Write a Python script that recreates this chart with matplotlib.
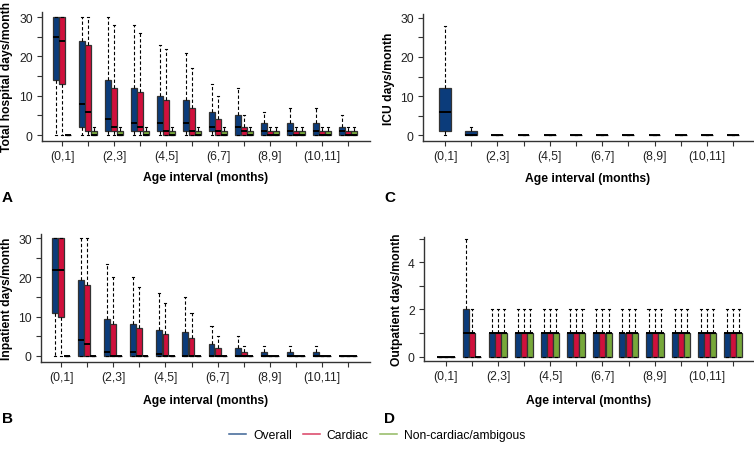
import numpy as np
import matplotlib
matplotlib.use('Agg')
import matplotlib.pyplot as plt
from matplotlib.lines import Line2D

plt.rcParams['font.family'] = ['Liberation Sans', 'DejaVu Sans']

# age intervals (12 months)
intervals = ['(0,1]', '(1,2]', '(2,3]', '(3,4]', '(4,5]', '(5,6]',
             '(6,7]', '(7,8]', '(8,9]', '(9,10]', '(10,11]', '(11,12]']
groups = ['Overall', 'Cardiac', 'Non-cardiac/ambigous']
colors = ['#0b3c7b', '#d0103c', '#77a83a']

# A: total hospital days/month  (lo, q1, med, q3, hi)
tot_overall = dict(
    lo=[0, 0, 0, 0, 0, 0, 0, 0, 0, 0, 0, 0],
    q1=[14, 2, 1, 1, 1, 1, 1, 0, 0, 0, 0, 0],
    med=[25, 8, 4, 3, 3, 3, 2, 2, 1, 1, 1, 1],
    q3=[30, 24, 14, 12, 10, 9, 6, 5, 3, 3, 3, 2],
    hi=[30, 30, 30, 28, 23, 21, 13, 12, 6, 7, 7, 5])
tot_cardiac = dict(
    lo=[0, 0, 0, 0, 0, 0, 0, 0, 0, 0, 0, 0],
    q1=[13, 1, 1, 1, 0, 0, 0, 0, 0, 0, 0, 0],
    med=[24, 6, 2, 2, 1, 1, 1, 1, 0, 0, 0, 0],
    q3=[30, 23, 12, 11, 9, 7, 4, 2, 1, 1, 1, 1],
    hi=[30, 30, 28, 26, 22, 17, 10, 5, 2, 2, 2, 2])
tot_noncard = dict(
    lo=[0, 0, 0, 0, 0, 0, 0, 0, 0, 0, 0, 0],
    q1=[0, 0, 0, 0, 0, 0, 0, 0, 0, 0, 0, 0],
    med=[0, 0, 0, 0, 0, 0, 0, 0, 0, 0, 0, 0],
    q3=[0, 1, 1, 1, 1, 1, 1, 1, 1, 1, 1, 1],
    hi=[0, 2, 2, 2, 2, 2, 2, 2, 2, 2, 2, 2])

# B: inpatient days/month
inp_overall = dict(
    lo=[0, 0, 0, 0, 0, 0, 0, 0, 0, 0, 0, 0],
    q1=[11, 0, 0, 0, 0, 0, 0, 0, 0, 0, 0, 0],
    med=[22, 4, 1, 1, 0.5, 0, 0, 0, 0, 0, 0, 0],
    q3=[30, 19.3, 9.5, 8, 6.5, 6, 3, 2, 1, 1, 1, 0],
    hi=[30, 30, 23.5, 20, 16, 15, 7.5, 5, 2.5, 2.5, 2.5, 0])
inp_cardiac = dict(
    lo=[0, 0, 0, 0, 0, 0, 0, 0, 0, 0, 0, 0],
    q1=[10, 0, 0, 0, 0, 0, 0, 0, 0, 0, 0, 0],
    med=[22, 3, 0, 0, 0, 0, 0, 0, 0, 0, 0, 0],
    q3=[30, 18, 8, 7, 5.5, 4.5, 2, 1, 0, 0, 0, 0],
    hi=[30, 30, 20, 17.5, 13.5, 11, 5, 2.5, 0, 0, 0, 0])
inp_noncard = dict(
    lo=[0] * 12, q1=[0] * 12, med=[0] * 12, q3=[0] * 12, hi=[0] * 12)

# C: ICU days/month (overall only)
icu_overall = dict(
    lo=[0, 0, 0, 0, 0, 0, 0, 0, 0, 0, 0, 0],
    q1=[1, 0, 0, 0, 0, 0, 0, 0, 0, 0, 0, 0],
    med=[6, 0, 0, 0, 0, 0, 0, 0, 0, 0, 0, 0],
    q3=[12, 1, 0, 0, 0, 0, 0, 0, 0, 0, 0, 0],
    hi=[28, 2, 0, 0, 0, 0, 0, 0, 0, 0, 0, 0])

# D: outpatient days/month
out_overall = dict(
    lo=[0] * 12, q1=[0] * 12,
    med=[0, 1, 1, 1, 1, 1, 1, 1, 1, 1, 1, 1],
    q3=[0, 2, 1, 1, 1, 1, 1, 1, 1, 1, 1, 1],
    hi=[0, 5, 2, 2, 2, 2, 2, 2, 2, 2, 2, 2])
out_cardiac = dict(
    lo=[0] * 12, q1=[0] * 12,
    med=[0, 1, 1, 1, 1, 1, 1, 1, 1, 1, 1, 1],
    q3=[0, 1, 1, 1, 1, 1, 1, 1, 1, 1, 1, 1],
    hi=[0, 2, 2, 2, 2, 2, 2, 2, 2, 2, 2, 2])
out_noncard = dict(
    lo=[0] * 12, q1=[0] * 12,
    med=[0, 0, 1, 1, 1, 1, 1, 1, 1, 1, 1, 1],
    q3=[0, 0, 1, 1, 1, 1, 1, 1, 1, 1, 1, 1],
    hi=[0, 0, 2, 2, 2, 2, 2, 2, 2, 2, 2, 2])

W, H = 754, 452
fig = plt.figure(figsize=(W / 100, H / 100), dpi=100)


def px_axes(left, top, right, bottom):
    return fig.add_axes([left / W, 1 - bottom / H, (right - left) / W, (bottom - top) / H])


def draw_panel(ax, series, cols, offsets, width, xlim, ylim, yticks, ylabels, ylab):
    pos = np.arange(1, 13)
    for s, c, off in zip(series, cols, offsets):
        stats = []
        for i in range(12):
            stats.append(dict(med=s['med'][i], q1=s['q1'][i], q3=s['q3'][i],
                              whislo=s['lo'][i], whishi=s['hi'][i], fliers=[]))
        ax.bxp(stats, positions=pos + off, widths=width, capwidths=0.08,
               patch_artist=True, showfliers=False, manage_ticks=False,
               boxprops=dict(facecolor=c, edgecolor='#333333', linewidth=0.9),
               whiskerprops=dict(color='black', linewidth=0.8, linestyle=(0, (3, 2))),
               capprops=dict(color='black', linewidth=0.8),
               medianprops=dict(color='black', linewidth=1.4))
    ax.set_xlim(*xlim)
    ax.set_ylim(*ylim)
    ax.set_xticks(pos)
    ax.set_xticklabels([lab if i % 2 == 0 else '' for i, lab in enumerate(intervals)])
    ax.set_yticks(yticks)
    ax.set_yticklabels([str(t) if t in ylabels else '' for t in yticks])
    for sp in ['top', 'right']:
        ax.spines[sp].set_visible(False)
    for sp in ['left', 'bottom']:
        ax.spines[sp].set_color('#333333')
        ax.spines[sp].set_linewidth(1.0)
    ax.tick_params(axis='both', length=3.6, width=0.8, color='#333333',
                   labelsize=8.7, labelcolor='#222222')
    ax.tick_params(axis='x', pad=3)
    ax.tick_params(axis='y', pad=3)
    ax.set_xlabel('Age interval (months)', fontsize=8.7, fontweight='bold')
    ax.set_ylabel(ylab, fontsize=8.7, fontweight='bold')


off3 = [-0.235, 0.0, 0.235]

axA = px_axes(42, 13, 370, 142)
draw_panel(axA, [tot_overall, tot_cardiac, tot_noncard], colors, off3, 0.225,
           (0.23, 12.85), (-1.5, 31.3), list(range(0, 31, 5)), [0, 10, 20, 30],
           'Total hospital days/month')
axA.yaxis.set_label_coords(-0.088, 0.5)
axA.xaxis.set_label_coords(0.5, -0.233)

axB = px_axes(41, 235, 370, 363)
draw_panel(axB, [inp_overall, inp_cardiac, inp_noncard], colors, off3, 0.225,
           (0.23, 12.84), (-1.6, 31.1), list(range(0, 31, 5)), [0, 10, 20, 30],
           'Inpatient days/month')
axB.yaxis.set_label_coords(-0.085, 0.5)
axB.xaxis.set_label_coords(0.5, -0.25)

axC = px_axes(423, 15, 753, 142)
draw_panel(axC, [icu_overall], colors[:1], [0.0], 0.45,
           (0.16, 12.76), (-1.5, 31.0), list(range(0, 31, 5)), [0, 10, 20, 30],
           'ICU days/month')
axC.yaxis.set_label_coords(-0.085, 0.5)
axC.xaxis.set_label_coords(0.5, -0.246)

axD = px_axes(424, 238, 753, 362)
draw_panel(axD, [out_overall, out_cardiac, out_noncard], colors, off3, 0.23,
           (0.16, 12.77), (-0.19, 5.08), [0, 1, 2, 3, 4, 5], [0, 2, 4],
           'Outpatient days/month')
axD.yaxis.set_label_coords(-0.064, 0.5)
axD.xaxis.set_label_coords(0.5, -0.27)

# panel letters
for lab, x, y in [('A', 2, 202), ('B', 2, 423), ('C', 384, 202), ('D', 384, 423)]:
    fig.text(x / W, 1 - y / H, lab, fontsize=11, fontweight='bold', va='baseline', ha='left')

handles = [Line2D([0], [0], color=c, lw=1.1, alpha=0.8) for c in colors]
fig.legend(handles, groups, loc='center', bbox_to_anchor=(0.5, 1 - 436 / H), ncol=3,
           frameon=False, fontsize=8.7, handlelength=1.4, handletextpad=0.6,
           columnspacing=0.9)

fig.savefig('out.png', dpi=100)
